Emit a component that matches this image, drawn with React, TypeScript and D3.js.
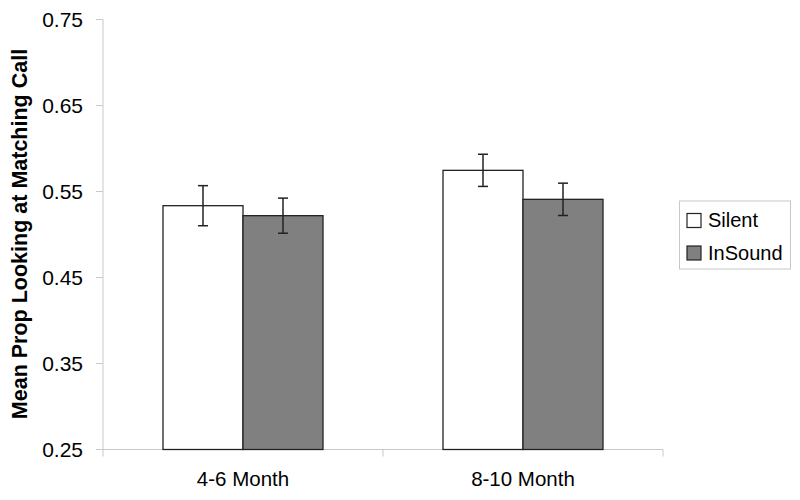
import React from "react";
import * as d3 from "d3";

const categories = ["4-6 Month", "8-10 Month"];
const seriesNames = ["Silent", "InSound"];
const silentValues = [0.5335, 0.5746];
const silentErrors = [0.0233, 0.0187];
const inSoundValues = [0.5219, 0.5409];
const inSoundErrors = [0.0204, 0.0188];
const yTicks = [0.25, 0.35, 0.45, 0.55, 0.65, 0.75];
const seriesColors = ["#ffffff", "#808080"];

export default function App() {
  const W = 800, H = 500;
  const left = 103, right = 663, top = 19.5, bottom = 449.5;
  const y = d3.scaleLinear().domain([0.25, 0.75]).range([bottom, top]);
  const x0 = d3.scaleBand().domain(categories).range([left, right]).paddingInner(0).paddingOuter(0);
  const x1 = d3.scaleBand().domain(seriesNames).range([0, 160]);
  const groupOffset = (x0.bandwidth() - 160) / 2;
  const values = [silentValues, inSoundValues];
  const errors = [silentErrors, inSoundErrors];
  const font = "Liberation Sans, Arial, sans-serif";
  const axisColor = "#c8c8c8";

  return (
    <svg width={W} height={H} style={{ position: "absolute", left: 0, top: 0, background: "#fff" }} fontFamily={font}>
      {/* y axis */}
      <line x1={left} x2={left} y1={top} y2={bottom} stroke={axisColor} strokeWidth={1} />
      {yTicks.map((t) => (
        <g key={t}>
          <line x1={left - 7} x2={left} y1={y(t)} y2={y(t)} stroke={axisColor} />
          <text x={83} y={y(t)} dy="0.36em" textAnchor="end" fontSize={21} fill="#000">
            {t.toFixed(2)}
          </text>
        </g>
      ))}
      {/* x axis */}
      <line x1={left} x2={right} y1={bottom} y2={bottom} stroke={axisColor} />
      {[left, ...categories.map((c) => (x0(c) as number) + x0.bandwidth())].map((xv, i) => (
        <line key={i} x1={xv} x2={xv} y1={bottom} y2={bottom + 7} stroke={axisColor} />
      ))}
      {categories.map((c) => (
        <text key={c} x={(x0(c) as number) + x0.bandwidth() / 2} y={486} textAnchor="middle" fontSize={20.5} fill="#000">
          {c}
        </text>
      ))}
      {/* bars */}
      {categories.map((c, ci) =>
        seriesNames.map((s, si) => {
          const bx = (x0(c) as number) + groupOffset + (x1(s) as number);
          const v = values[si][ci];
          const e = errors[si][ci];
          const cx = bx + x1.bandwidth() / 2;
          return (
            <g key={c + s}>
              <rect x={bx} y={y(v)} width={x1.bandwidth()} height={bottom - y(v)} fill={seriesColors[si]} stroke="#222" strokeWidth={1.3} />
              <line x1={cx} x2={cx} y1={y(v + e)} y2={y(v - e)} stroke="#222" strokeWidth={1.5} />
              <line x1={cx - 5} x2={cx + 5} y1={y(v + e)} y2={y(v + e)} stroke="#222" strokeWidth={1.5} />
              <line x1={cx - 5} x2={cx + 5} y1={y(v - e)} y2={y(v - e)} stroke="#222" strokeWidth={1.5} />
            </g>
          );
        })
      )}
      {/* y title */}
      <text transform={`translate(27,234) rotate(-90)`} textAnchor="middle" fontSize={21.5} fontWeight="bold" fill="#000">
        Mean Prop Looking at Matching Call
      </text>
      {/* legend */}
      <rect x={679.5} y={201} width={111} height={68} fill="#fff" stroke={axisColor} />
      {seriesNames.map((s, i) => (
        <g key={s}>
          <rect x={687} y={213.5 + i * 32.5} width={14} height={14} fill={seriesColors[i]} stroke="#222" strokeWidth={1.2} />
          <text x={708} y={227 + i * 33} fontSize={20} fill="#000">
            {s}
          </text>
        </g>
      ))}
    </svg>
  );
}
